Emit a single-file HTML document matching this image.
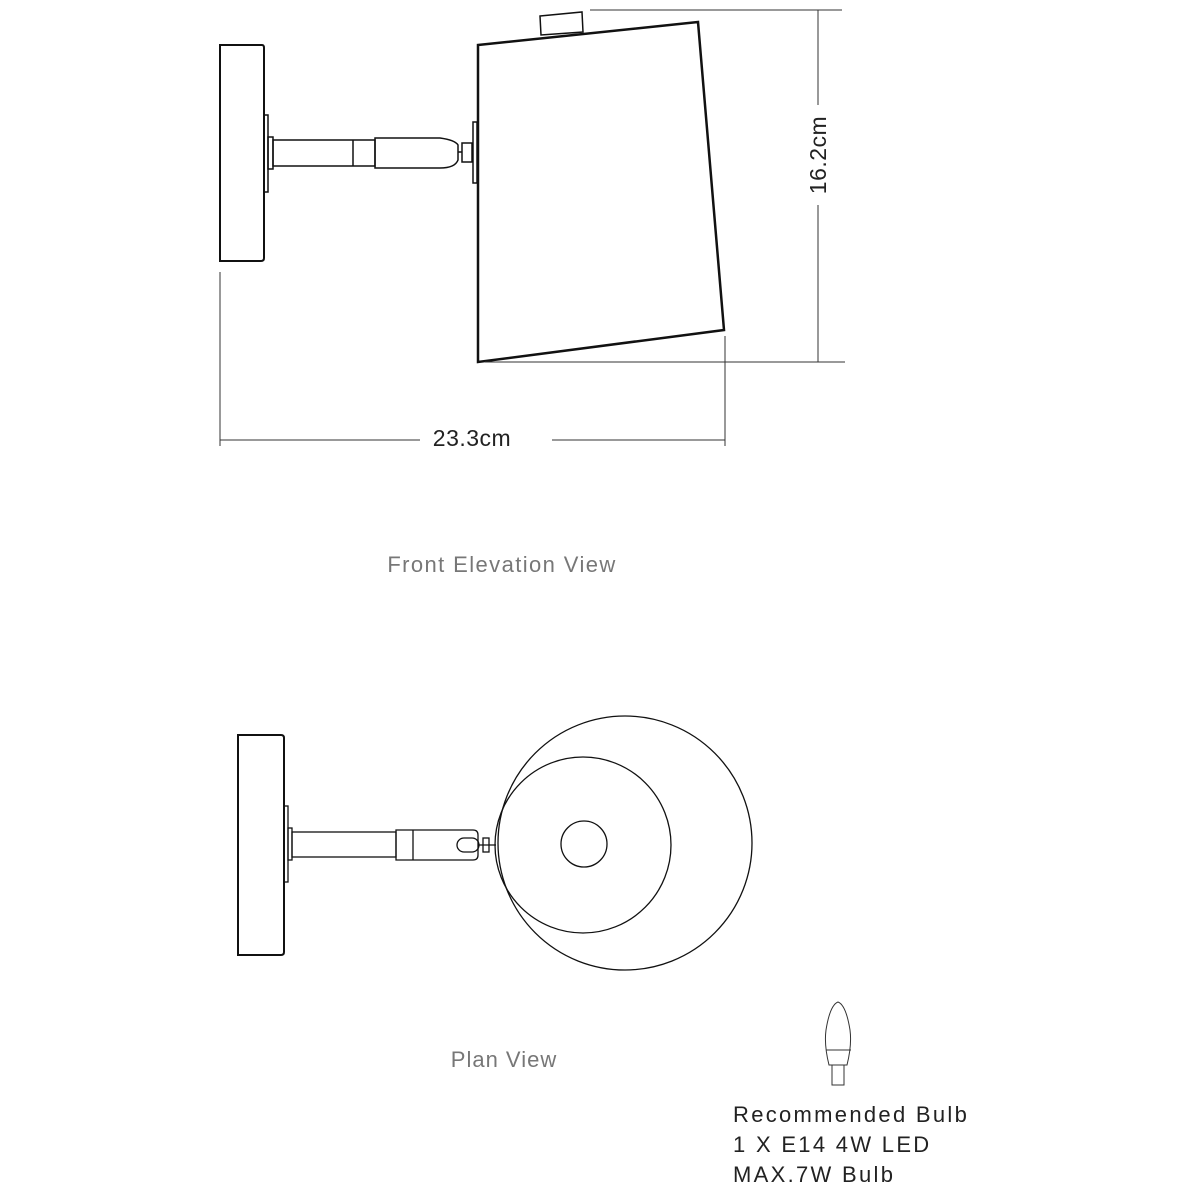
<!DOCTYPE html>
<html><head><style>body{margin:0;background:#fff}svg{display:block}</style></head><body>
<svg width="1200" height="1200" viewBox="0 0 1200 1200" xmlns="http://www.w3.org/2000/svg" font-family="Liberation Sans, sans-serif">
<g fill="none" stroke="#111" stroke-width="1.5">
<path d="M220 45 H262 Q264 45 264 48 V258 Q264 261 261 261 H220 Z" stroke-width="2"/>
<rect x="264" y="115" width="4" height="77"/>
<rect x="268" y="137" width="5" height="32"/>
<rect x="273" y="140" width="102" height="26"/>
<line x1="353" y1="140" x2="353" y2="166"/>
<path d="M375 138 H440 Q455 140 458 145 V160 Q455 168 440 168 H375 Z"/>
<line x1="458" y1="152" x2="462" y2="152"/>
<rect x="462" y="143" width="10" height="19"/>
<rect x="473" y="122" width="4" height="61"/>
<path d="M478 45 L698 22 L724 330 L478 362 Z" stroke-width="2.5"/>
<path d="M540 16 L582 12 L583 32 L541 35 Z"/>
</g>
<g stroke="#333" stroke-width="1" fill="none">
<line x1="590" y1="10" x2="842" y2="10"/>
<line x1="485" y1="362" x2="845" y2="362"/>
<line x1="818" y1="10" x2="818" y2="105"/>
<line x1="818" y1="205" x2="818" y2="362"/>
<line x1="220" y1="272" x2="220" y2="446"/>
<line x1="725" y1="336" x2="725" y2="446"/>
<line x1="220" y1="440" x2="420" y2="440"/>
<line x1="552" y1="440" x2="725" y2="440"/>
</g>
<text x="472" y="446" font-size="23" fill="#222" text-anchor="middle" letter-spacing="0.5">23.3cm</text>
<text transform="translate(826,155) rotate(-90)" font-size="23" fill="#222" text-anchor="middle" letter-spacing="0.5">16.2cm</text>
<text x="502" y="572" font-size="22" fill="#777" text-anchor="middle" letter-spacing="1.4">Front Elevation View</text>
<g fill="none" stroke="#111" stroke-width="1.3">
<path d="M238 735 H281 Q284 735 284 738 V952 Q284 955 281 955 H238 Z" stroke-width="2"/>
<rect x="284" y="806" width="4" height="76"/>
<rect x="288" y="828" width="4" height="32"/>
<rect x="292" y="832" width="104" height="25"/>
<path d="M396 830 H473 Q478 830 478 835 V855 Q478 860 473 860 H396 Z"/>
<line x1="413" y1="830" x2="413" y2="860"/>
<rect x="457" y="838" width="22" height="14" rx="7"/>
<rect x="483" y="838" width="6" height="14"/>
<line x1="478" y1="845" x2="496" y2="845"/>
<circle cx="625" cy="843" r="127"/>
<circle cx="583" cy="845" r="88"/>
<circle cx="584" cy="844" r="23"/>
</g>
<text x="504" y="1067" font-size="22" fill="#777" text-anchor="middle" letter-spacing="1">Plan View</text>
<g fill="none" stroke="#333" stroke-width="1">
<path d="M829 1065 Q824 1045 826 1030 Q830 1005 838 1002 Q846 1005 850 1030 Q852 1045 847 1065 Z"/>
<line x1="826" y1="1050" x2="851" y2="1050"/>
<rect x="832" y="1065" width="12" height="20"/>
</g>
<g font-size="22" fill="#222" letter-spacing="2.3">
<text x="733" y="1122">Recommended Bulb</text>
<text x="733" y="1152">1 X E14 4W LED</text>
<text x="733" y="1182">MAX.7W Bulb</text>
</g>
</svg>
</body></html>
